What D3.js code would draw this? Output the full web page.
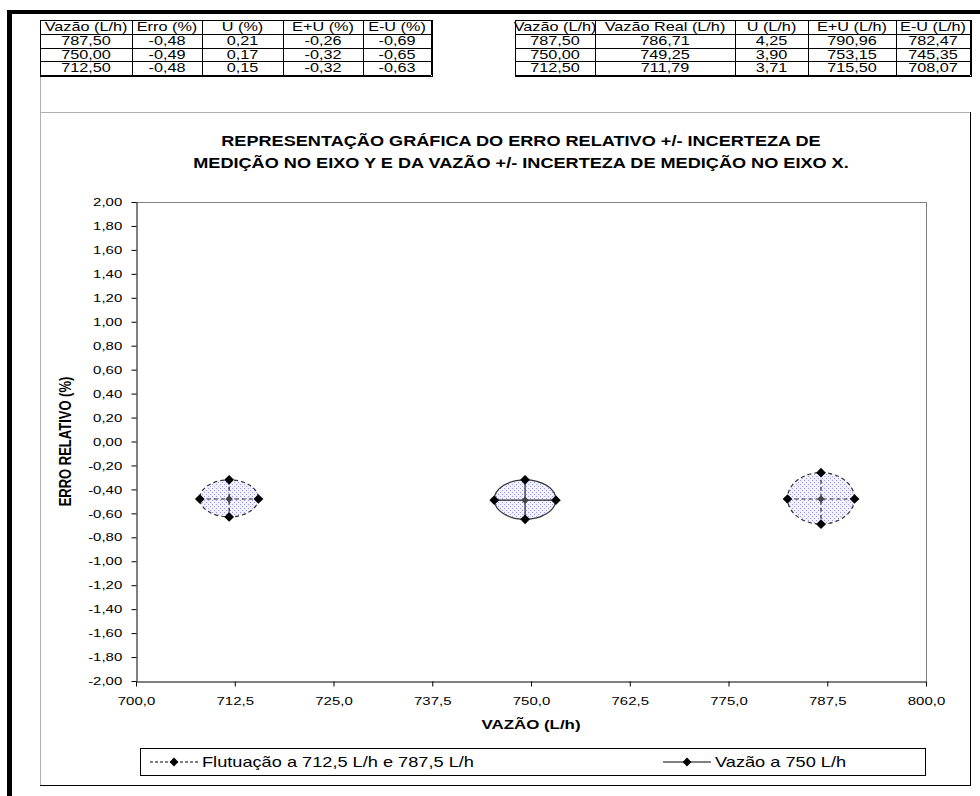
<!DOCTYPE html>
<html>
<head>
<meta charset="utf-8">
<script src="https://cdn.jsdelivr.net/npm/d3@7"></script>
<style>
body { margin: 0; background: #fff; }
svg { display: block; font-family: Arial, "Liberation Sans", sans-serif; }
</style>
</head>
<body>
<div id="chart"></div>
<script>
// table / series data
var vazao = [787.5, 750, 712.5];
var erro = [-0.48, -0.49, -0.48];
var uPct = [0.21, 0.17, 0.15];
var ePlusU = [-0.26, -0.32, -0.32];
var eMinusU = [-0.69, -0.65, -0.63];
var vazaoReal = [786.71, 749.25, 711.79];
var uLh = [4.25, 3.90, 3.71];
var vPlusU = [790.96, 753.15, 715.50];
var vMinusU = [782.47, 745.35, 708.07];
var serie = ["flut", "vazao", "flut"];

var headersErro = ["Vazão (L/h)", "Erro (%)", "U (%)", "E+U (%)", "E-U (%)"];
var headersVazao = ["Vazão (L/h)", "Vazão Real (L/h)", "U (L/h)", "E+U (L/h)", "E-U (L/h)"];
var xTicks = [700, 712.5, 725, 737.5, 750, 762.5, 775, 787.5, 800];
var yTicks = [2, 1.8, 1.6, 1.4, 1.2, 1, 0.8, 0.6, 0.4, 0.2, 0, -0.2, -0.4, -0.6, -0.8, -1, -1.2, -1.4, -1.6, -1.8, -2];
var titleLines = ["REPRESENTAÇÃO GRÁFICA DO ERRO RELATIVO +/- INCERTEZA DE",
                  "MEDIÇÃO NO EIXO Y E DA VAZÃO +/- INCERTEZA DE MEDIÇÃO NO EIXO X."];
var legendLabels = ["Flutuação a 712,5 L/h e 787,5 L/h", "Vazão a 750 L/h"];

var W = 980, H = 796;
var SX = 1.3; // the original text is stretched sideways
var plot = {left: 136, right: 926, top: 202, bottom: 681};
var diamond = d3.symbolDiamond2 || d3.symbolDiamond;

var svg = d3.select("#chart").append("svg")
  .attr("width", W)
  .attr("height", H);

var defs = svg.append("defs");
var pat = defs.append("pattern")
  .attr("id", "dots")
  .attr("width", 4).attr("height", 4)
  .attr("patternUnits", "userSpaceOnUse");
pat.append("rect").attr("width", 4).attr("height", 4).attr("fill", "#f2f2ff");
pat.append("rect").attr("x", 0).attr("y", 0).attr("width", 1).attr("height", 1).attr("fill", "#9a9aee");
pat.append("rect").attr("x", 2).attr("y", 2).attr("width", 1).attr("height", 1).attr("fill", "#9a9aee");

// portuguese style numbers: decimal comma, plain hyphen for minus
var pt = d3.formatLocale({decimal: ",", thousands: ".", grouping: [3], currency: ["R$", ""], minus: "-"});
var f2 = pt.format(".2f"), f1 = pt.format(".1f");

function label(g, x, y, str, size, weight, anchor, sx) {
  return g.append("text")
    .attr("transform", "translate(" + x + "," + y + ") scale(" + (sx || SX) + ",1)")
    .attr("text-anchor", anchor || "middle")
    .attr("font-size", size)
    .attr("font-weight", weight || "normal")
    .attr("fill", "#000")
    .text(str);
}

// page frame
svg.append("rect").attr("x", 7).attr("y", 10).attr("width", W - 7).attr("height", 4).attr("fill", "#000");
svg.append("rect").attr("x", 7).attr("y", 10).attr("width", 5).attr("height", H - 10).attr("fill", "#000");
svg.append("line").attr("x1", 40.5).attr("x2", 40.5).attr("y1", 20).attr("y2", 785).attr("stroke", "#b0b0b0");

// tables
function drawTable(cols, headers, rows) {
  var rowY = [20, 34, 48, 61, 75];
  var g = svg.append("g");
  headers.forEach(function(h, j) {
    label(g, (cols[j] + cols[j + 1]) / 2, rowY[0] + 11, h, 12.5);
  });
  rows.forEach(function(r, i) {
    r.forEach(function(v, j) {
      label(g, (cols[j] + cols[j + 1]) / 2, rowY[i + 1] + 11, v, 12.5);
    });
  });
  rowY.forEach(function(y) {
    g.append("line").attr("x1", cols[0]).attr("x2", cols[cols.length - 1])
      .attr("y1", y + 0.5).attr("y2", y + 0.5).attr("stroke", "#000");
  });
  cols.forEach(function(x) {
    g.append("line").attr("x1", x + 0.5).attr("x2", x + 0.5)
      .attr("y1", rowY[0]).attr("y2", rowY[rowY.length - 1]).attr("stroke", "#000");
  });
  g.append("line").attr("x1", cols[cols.length - 1] + 1.5).attr("x2", cols[cols.length - 1] + 1.5)
    .attr("y1", rowY[0]).attr("y2", rowY[rowY.length - 1] + 2).attr("stroke", "#000");
  g.append("line").attr("x1", cols[0]).attr("x2", cols[cols.length - 1] + 2)
    .attr("y1", rowY[rowY.length - 1] + 1.5).attr("y2", rowY[rowY.length - 1] + 1.5).attr("stroke", "#000");
}

drawTable([40, 132, 202, 283, 363, 431], headersErro,
  vazao.map(function(v, i) { return [f2(v), f2(erro[i]), f2(uPct[i]), f2(ePlusU[i]), f2(eMinusU[i])]; }));
drawTable([515, 595, 735, 808, 896, 970], headersVazao,
  vazao.map(function(v, i) { return [f2(v), f2(vazaoReal[i]), f2(uLh[i]), f2(vPlusU[i]), f2(vMinusU[i])]; }));

// chart area
var area = svg.append("g");
area.append("rect").attr("x", 40.5).attr("y", 112.5).attr("width", 930).attr("height", 673)
  .attr("fill", "#fff").attr("stroke", "#b0b0b0");
area.append("line").attr("x1", 970.5).attr("x2", 970.5).attr("y1", 112).attr("y2", 786).attr("stroke", "#000");
area.append("line").attr("x1", 40).attr("x2", 971).attr("y1", 785.5).attr("y2", 785.5).attr("stroke", "#000");

titleLines.forEach(function(t, i) {
  label(svg, 521, 146 + i * 22, t, 14.5, "bold", "middle", 1.25);
});

var x = d3.scaleLinear().domain([700, 800]).range([plot.left, plot.right]);
var y = d3.scaleLinear().domain([-2, 2]).range([plot.bottom, plot.top]);

svg.append("line").attr("x1", plot.left).attr("x2", plot.right)
  .attr("y1", plot.top + 0.5).attr("y2", plot.top + 0.5).attr("stroke", "#808080");
svg.append("line").attr("x1", plot.right + 0.5).attr("x2", plot.right + 0.5)
  .attr("y1", plot.top).attr("y2", plot.bottom).attr("stroke", "#808080");

var yAxis = svg.append("g")
  .attr("transform", "translate(" + (plot.left + 0.5) + ",0)")
  .call(d3.axisLeft(y).tickValues(yTicks).tickFormat(f2).tickSize(5).tickPadding(6).tickSizeOuter(0));
var xAxis = svg.append("g")
  .attr("transform", "translate(0," + (plot.bottom + 0.5) + ")")
  .call(d3.axisBottom(x).tickValues(xTicks).tickFormat(f1).tickSize(5).tickPadding(10).tickSizeOuter(0));
[yAxis, xAxis].forEach(function(a) {
  a.selectAll("text").attr("font-size", 11.5).attr("font-family", "Arial, 'Liberation Sans', sans-serif")
    .attr("fill", "#000").attr("transform", "scale(" + SX + ",1)");
  a.selectAll("line, path").attr("stroke", "#000");
});

label(svg, 531, 729, "VAZÃO (L/h)", 13, "bold");
svg.append("text")
  .attr("transform", "translate(71," + ((plot.top + plot.bottom) / 2) + ") rotate(-90) scale(1,1.2)")
  .attr("text-anchor", "middle")
  .attr("font-size", 13).attr("font-weight", "bold")
  .text("ERRO RELATIVO (%)");

// ellipses of uncertainty
var marks = svg.append("g");
var dash = function(i) { return serie[i] === "flut" ? "4,3" : null; };

vazao.forEach(function(v, i) {
  var g = marks.append("g");
  g.append("ellipse")
    .attr("cx", x((vPlusU[i] + vMinusU[i]) / 2))
    .attr("cy", y((ePlusU[i] + eMinusU[i]) / 2))
    .attr("rx", (x(vPlusU[i]) - x(vMinusU[i])) / 2)
    .attr("ry", (y(eMinusU[i]) - y(ePlusU[i])) / 2)
    .attr("fill", "url(#dots)")
    .attr("stroke", "#333")
    .attr("stroke-width", 1.2)
    .attr("stroke-dasharray", dash(i));
  g.append("line")
    .attr("x1", x(vMinusU[i])).attr("x2", x(vPlusU[i]))
    .attr("y1", y(erro[i])).attr("y2", y(erro[i]))
    .attr("stroke", "#222").attr("stroke-width", 1.2).attr("stroke-dasharray", dash(i));
  g.append("line")
    .attr("x1", x(vazaoReal[i])).attr("x2", x(vazaoReal[i]))
    .attr("y1", y(ePlusU[i])).attr("y2", y(eMinusU[i]))
    .attr("stroke", "#222").attr("stroke-width", 1.2).attr("stroke-dasharray", dash(i));
  var pts = [[vMinusU[i], erro[i], 60], [vPlusU[i], erro[i], 60],
             [vazaoReal[i], ePlusU[i], 60], [vazaoReal[i], eMinusU[i], 60],
             [vazaoReal[i], erro[i], 36]];
  g.selectAll("path.pt").data(pts).enter().append("path")
    .attr("class", "pt")
    .attr("transform", function(d) { return "translate(" + x(d[0]) + "," + y(d[1]) + ")"; })
    .attr("d", function(d) { return d3.symbol(diamond, d[2])(); })
    .attr("fill", function(d, k) { return k === 4 ? "#444" : "#000"; });
});

// legend
var leg = svg.append("g");
leg.append("rect").attr("x", 140.5).attr("y", 748.5).attr("width", 785).attr("height", 27)
  .attr("fill", "#fff").attr("stroke", "#000");
var legItems = [{x: 150, dash: "3,2"}, {x: 663, dash: null}];
legItems.forEach(function(it, i) {
  leg.append("line").attr("x1", it.x).attr("x2", it.x + 48).attr("y1", 762).attr("y2", 762)
    .attr("stroke", "#000").attr("stroke-dasharray", it.dash);
  leg.append("path").attr("transform", "translate(" + (it.x + 24) + ",762)")
    .attr("d", d3.symbol(diamond, 50)()).attr("fill", "#000");
  label(leg, it.x + 52, 767, legendLabels[i], 14, "normal", "start");
});
</script>
</body>
</html>
